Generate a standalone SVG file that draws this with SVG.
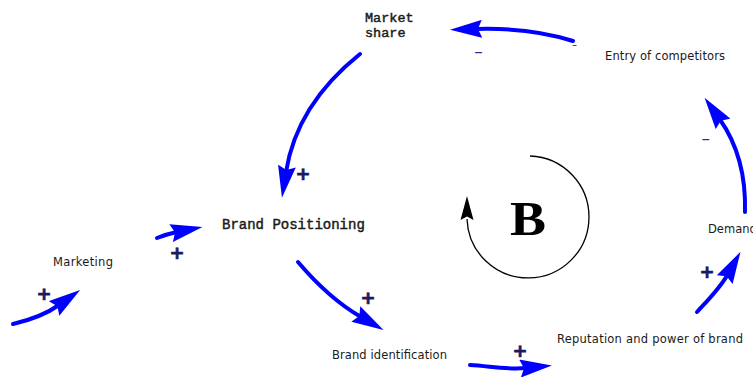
<svg xmlns="http://www.w3.org/2000/svg" width="753" height="381" viewBox="0 0 753 381">
  <style>
    .link { fill: none; stroke: #0000ff; stroke-width: 4; stroke-linecap: round; marker-end: url(#head); }
    .mono { font-family: "Liberation Mono", "Courier New", monospace; fill: #1a1a1a; stroke: #1a1a1a; stroke-width: 0.45; }
    .sans { font-family: "DejaVu Sans", Verdana, sans-serif; font-size: 11.5px; fill: #1a1a1a; }
    .plus { font-family: "DejaVu Sans", sans-serif; font-weight: bold; font-size: 18px; fill: #1a1a60; stroke: #1a1a60; stroke-width: 0.7; text-anchor: middle; }
    .minus { font-family: "DejaVu Sans", sans-serif; font-size: 17px; fill: #2a2a90; text-anchor: middle; }
  </style>
  <defs>
    <marker id="head" viewBox="0 0 32 18" refX="6" refY="9" markerWidth="32" markerHeight="18" markerUnits="userSpaceOnUse" orient="auto">
      <path d="M0,0 L32,9 L0,18 L4,9 z" fill="#0000ff"/>
    </marker>
  </defs>
  <rect width="753" height="381" fill="#ffffff"/>

  <g id="connectors">
    <path class="link" d="M360,54 C330,78 295,115 286,172"/>
    <path class="link" d="M157,238 Q167,234 177,232"/>
    <path class="link" d="M13,324 C30,320 45,315 59,305"/>
    <path class="link" d="M298,262 C315,282 335,302 361,317"/>
    <path class="link" d="M470,365 C490,366 505,370 526,368"/>
    <path class="link" d="M697,312 C708,300 720,288 727.7,274.4"/>
    <path class="link" d="M745,212 C746,175 738,145 719.6,119"/>
    <path class="link" d="M573,41 C545,32 510,28 476,29"/>
  </g>

  <g id="polarities">
    <text class="plus" x="303" y="180">+</text>
    <text class="plus" x="177" y="259">+</text>
    <text class="plus" x="44" y="300">+</text>
    <text class="plus" x="368" y="304">+</text>
    <text class="plus" x="520" y="357">+</text>
    <text class="plus" x="707" y="278">+</text>
    <text class="minus" x="478.5" y="57">–</text>
    <text class="minus" x="574.5" y="48" style="font-size:10px;fill:#1a1a1a">–</text>
    <text class="minus" x="705.7" y="144">–</text>
  </g>

  <g id="loop">
    <path d="M530,156 A61,61 0 1 1 467,219" fill="none" stroke="#000" stroke-width="1.3"/>
    <path d="M467,196 L460.5,220 L467,216.5 L473.5,220 z" fill="#000"/>
    <text x="528" y="235" text-anchor="middle" font-family="Liberation Serif, Times New Roman, serif" font-weight="bold" font-size="48" textLength="36" lengthAdjust="spacingAndGlyphs" fill="#000">B</text>
  </g>

  <g id="market-share">
    <text class="mono" x="365" y="22" font-size="13.5">Market</text>
    <text class="mono" x="365" y="37" font-size="13.5">share</text>
  </g>
  <g id="entry-of-competitors">
    <text class="sans" x="605" y="60" textLength="120" lengthAdjust="spacing">Entry of competitors</text>
  </g>
  <g id="brand-positioning">
    <text class="mono" x="222" y="229" font-size="14">Brand Positioning</text>
  </g>
  <g id="marketing">
    <text class="sans" x="53" y="266" textLength="60" lengthAdjust="spacing">Marketing</text>
  </g>
  <g id="brand-identification">
    <text class="sans" x="332" y="359" textLength="115" lengthAdjust="spacing">Brand identification</text>
  </g>
  <g id="reputation">
    <text class="sans" x="557" y="343" textLength="186" lengthAdjust="spacing">Reputation and power of brand</text>
  </g>
  <g id="demand">
    <text class="sans" x="708" y="233">Demand</text>
  </g>
</svg>
